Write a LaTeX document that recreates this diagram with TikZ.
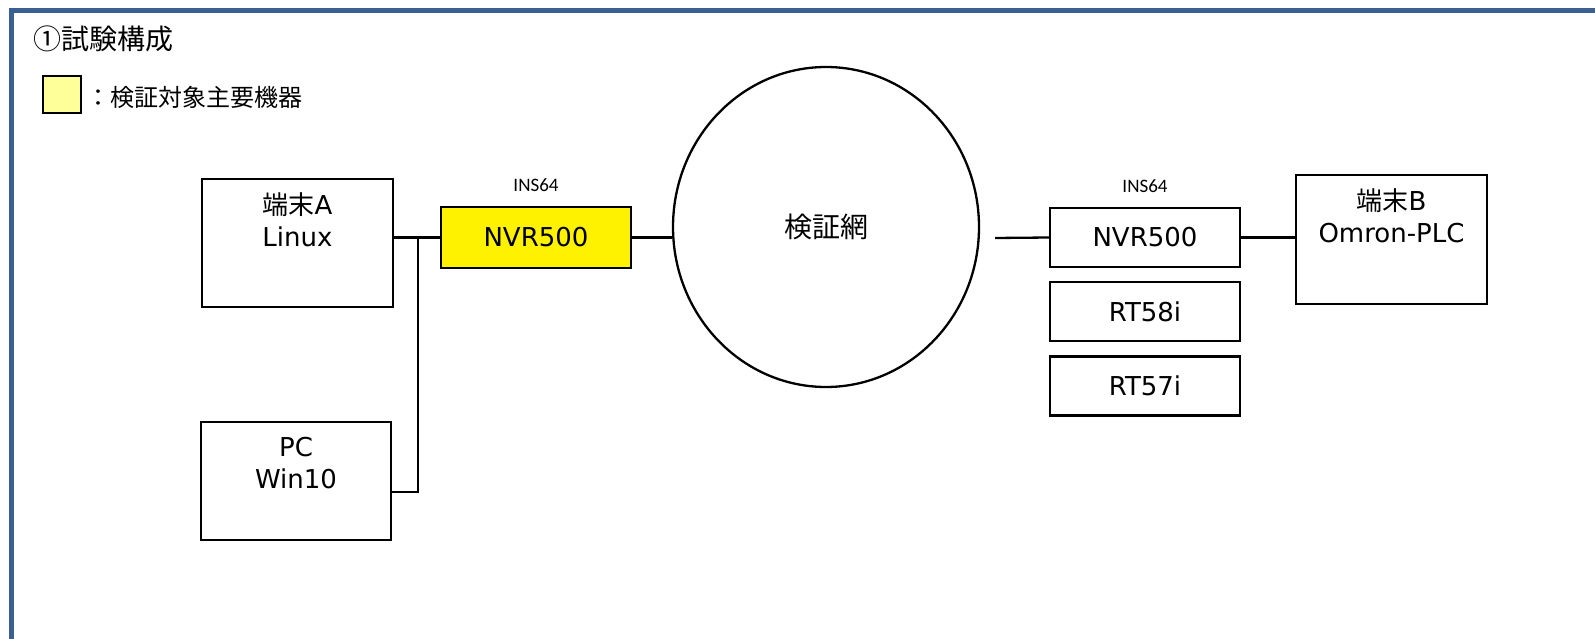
\documentclass[tikz,border=0pt]{standalone}
\usepackage{fontspec}
\setmainfont{DejaVu Sans}
\newfontfamily\jp{Noto Sans CJK JP}
\newfontfamily\narrow{Carlito}
\usetikzlibrary{positioning,shapes.geometric}
\definecolor{frameblue}{RGB}{58,96,145}
\definecolor{keyyellow}{RGB}{255,255,153}
\tikzset{
  plain box/.style={
    draw,
    line width=2.3pt,
    minimum width=190pt,
    minimum height={#1pt},
    font=\fontsize{26}{32}\selectfont,
  },
  yellow box/.style={
    plain box=#1,
    fill=yellow,
  },
  caption/.style={
    anchor=north,
    align=center,
    inner sep=0pt,
    font=\fontsize{26}{32}\selectfont,
  },
  tag/.style={
    inner sep=0pt,
    font=\narrow\fontsize{19}{19}\selectfont,
  },
  link/.style={
    line width=2.3pt,
  }
}

\begin{document}
\begin{tikzpicture}[x=1pt, y=-1pt, node distance=13pt]
        \useasboundingbox (0,0) rectangle (1595,639);
        \draw [frameblue, line width=5pt] (1600,10.5) -- (11.5,10.5) -- (11.5,645);

        \node [anchor=base west, inner sep=0pt, font=\jp\fontsize{28}{28}\selectfont] (title) at (33,50) {①試験構成};
        \node [draw, line width=2.8pt, fill=keyyellow, minimum width=38pt, minimum height=37pt, inner sep=0pt] (key) at (62,94.5) {};
        \node [anchor=base west, inner sep=0pt, font=\jp\fontsize{24}{24}\selectfont] (keytext) at (86,106.5) {：検証対象主要機器};

        \node [plain box=128, minimum width=191pt] (termA) at (297.5,243) {};
        \node [plain box=118] (pc) at (296,481) {};
        \node [yellow box=61] (nvrA) at (536,237.5) {NVR500};
        \node [ellipse, draw, line width=2.3pt, minimum width=306pt, minimum height=320pt, inner sep=0pt,
               font=\jp\fontsize{28}{28}\selectfont] (net) at (826,227) {検証網};
        \node [plain box=59] (nvrB) at (1145,237.5) {NVR500};
        \node [plain box=59, below=of nvrB] (rt58) {RT58i};
        \node [plain box=59, below=of rt58] (rt57) {RT57i};
        \node [plain box=129, minimum width=191pt] (termB) at (1391.5,239.5) {};

        \node [caption] at ([yshift=-15pt]termA.north) {{\jp 端末}A\\Linux};
        \node [caption] at ([yshift=-16pt]pc.north) {PC\\Win10};
        \node [caption] at ([yshift=-15pt]termB.north) {{\jp 端末}B\\Omron-PLC};
        \node [tag, above=14pt of nvrA] (insA) {INS64};
        \node [tag, above=14pt of nvrB] (insB) {INS64};

        \coordinate (jA) at (418,237);
        \coordinate (jPC) at (418,492);
        \coordinate (cut) at (995,238);
        \draw [link] (termA.east |- nvrA.west) -- (nvrA.west);
        \draw [link] (jA) -- (jPC) -- (pc.east |- jPC);
        \draw [link] (nvrA.east) -- (nvrA.east -| net.west);
        \draw [link] (cut) -- (nvrB.west);
        \draw [link] (nvrB.east) -- (nvrB.east -| termB.west);
\end{tikzpicture}
\end{document}
